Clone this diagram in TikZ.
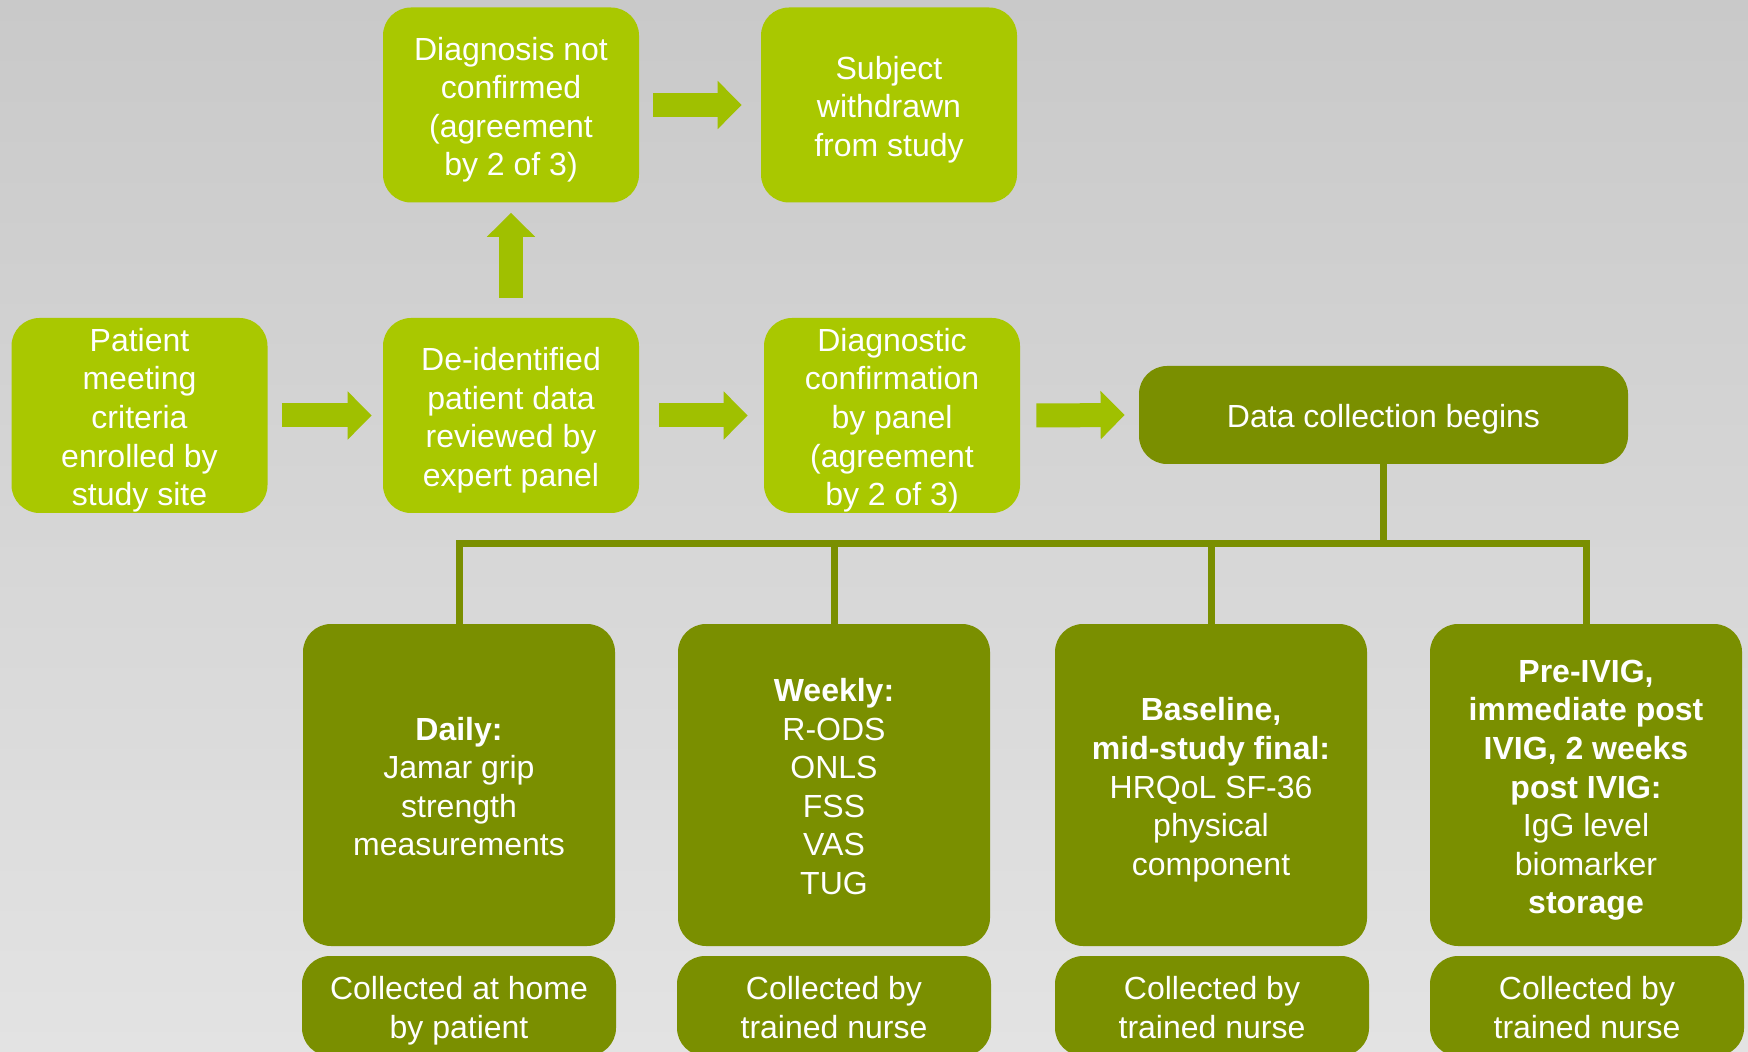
\documentclass[tikz,border=0pt]{standalone}
\usepackage{fontspec}
\setmainfont{Liberation Sans}
\usetikzlibrary{arrows.meta}
\definecolor{lg}{HTML}{A9C800}
\definecolor{arr}{HTML}{A0C000}
\definecolor{dg}{HTML}{7A8F00}
\definecolor{bgtop}{HTML}{C9C9C9}
\definecolor{bgbot}{HTML}{E3E3E3}
\newcommand\topstr{\rule{0pt}{16.5pt}}
\newcommand\botstr{\rule[-3.5pt]{0pt}{3.5pt}}
\begin{document}
\begin{tikzpicture}[x=0.5pt,y=-0.5pt,
  box/.style={rounded corners=14pt, text=white, align=center, inner sep=0pt,
    font=\fontsize{16}{19.3}\selectfont},
  lbox/.style={box, fill=lg, minimum width=128pt, minimum height=97.5pt},
  dbox/.style={box, fill=dg, minimum width=156pt, minimum height=161pt},
  fbox/.style={box, fill=dg, minimum width=157pt, minimum height=50pt},
  blockarr/.style={draw=arr, line width=12pt, line cap=butt,
    -{Triangle[length=12pt,width=23.5pt]}},
  tree/.style={draw=dg, line width=3.5pt}]
\useasboundingbox (0,0) rectangle (1748,1052);
\clip (0,0) rectangle (1748,1052);
\shade[top color=bgtop, bottom color=bgbot] (0,0) rectangle (1748,1052);

% top row
\node[lbox] (diag) at (511,105) {\topstr Diagnosis not\\confirmed\\(agreement\\by 2 of 3)\botstr};
\node[lbox] (withdrawn) at (889,105) {\topstr Subject\\withdrawn\\from study\botstr};
% middle row
\node[lbox] (patient) at (139.5,415.5) {\topstr Patient\\meeting\\criteria\\enrolled by\\study site\botstr};
\node[lbox] (deid) at (511,415.5) {\topstr De-identified\\patient data\\reviewed by\\expert panel\botstr};
\node[lbox] (conf) at (892,415.5) {\topstr Diagnostic\\confirmation\\by panel\\(agreement\\by 2 of 3)\botstr};
\node[box, fill=dg, minimum width=244.5pt, minimum height=49pt] (data) at (1383.5,415) {\topstr Data collection begins\botstr};
% bottom boxes
\node[dbox] (b1) at (459,785) {\topstr\textbf{Daily:}\\Jamar grip\\strength\\measurements\botstr};
\node[dbox] (b2) at (834,785) {\topstr\textbf{Weekly:}\\R-ODS\\ONLS\\FSS\\VAS\\TUG\botstr};
\node[dbox] (b3) at (1211,785) {\topstr\textbf{Baseline,}\\\textbf{mid-study final:}\\HRQoL SF-36\\physical\\component\botstr};
\node[dbox] (b4) at (1586,785) {\topstr\textbf{Pre-IVIG,}\\\textbf{immediate post}\\\textbf{IVIG, 2 weeks}\\\textbf{post IVIG:}\\IgG level\\biomarker\\\textbf{storage}\botstr};
% footer boxes
\node[fbox] (f1) at (459,1006) {\topstr Collected at home\\by patient\botstr};
\node[fbox] (f2) at (834,1006) {\topstr Collected by\\trained nurse\botstr};
\node[fbox] (f3) at (1212,1006) {\topstr Collected by\\trained nurse\botstr};
\node[fbox] (f4) at (1587,1006) {\topstr Collected by\\trained nurse\botstr};

% block arrows
\draw[blockarr] ([xshift=7pt]patient.east) -- ([xshift=-5.5pt]deid.west);
\draw[blockarr] ([xshift=10pt]deid.east) -- ([xshift=-8pt]conf.west);
\draw[blockarr] ([xshift=8pt]conf.east) -- ([xshift=-7pt]data.west);
\draw[blockarr] ([xshift=7pt]diag.east) -- ([xshift=-9.5pt]withdrawn.west);
\draw[blockarr] ([yshift=10pt]deid.north) -- ([yshift=-5pt]diag.south);

% tree connector
\coordinate (bus) at (0,544);
\draw[tree] (data.south) -- (data.south |- bus);
\draw[tree] (b1.north) -- (b1.north |- bus) -- (b4.north |- bus) -- (b4.north);
\draw[tree] (b2.north) -- (b2.north |- bus);
\draw[tree] (b3.north) -- (b3.north |- bus);
\end{tikzpicture}
\end{document}
